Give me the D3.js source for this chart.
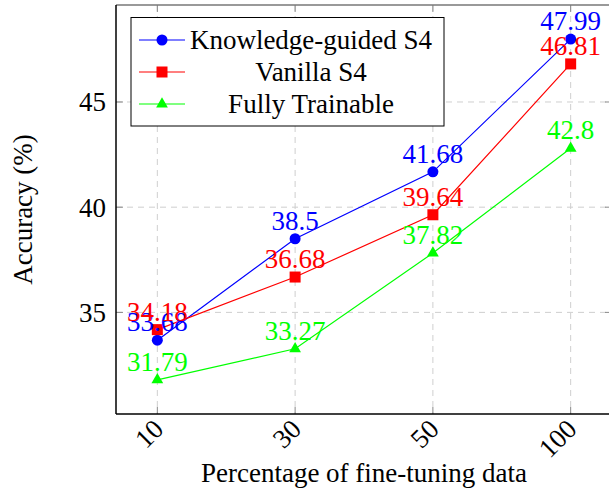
<!DOCTYPE html>
<html>
<head>
<meta charset="utf-8">
<script src="https://cdn.jsdelivr.net/npm/d3@7"></script>
<style>
  body { margin: 0; background: #fff; }
</style>
</head>
<body>
<div id="chart"></div>
<script>
const categories = ['10', '30', '50', '100']
const knowledgeGuided = [33.68, 38.5, 41.68, 47.99]
const vanilla = [34.18, 36.68, 39.64, 46.81]
const fullyTrainable = [31.79, 33.27, 37.82, 42.8]
const yTicks = [35, 40, 45]
const seriesNames = ['Knowledge-guided S4', 'Vanilla S4', 'Fully Trainable']

const svgWidth = 609
const svgHeight = 489
const margin = {top: 5, right: -3, bottom: 75, left: 116}
const width = svgWidth - margin.left - margin.right
const height = svgHeight - margin.top - margin.bottom
const fontFamily = '"Liberation Serif", "Times New Roman", "DejaVu Serif", serif'
const fontSize = 27

const series = [
  {name: seriesNames[0], values: knowledgeGuided, color: '#0000ff', marker: 'circle'},
  {name: seriesNames[1], values: vanilla, color: '#ff0000', marker: 'square'},
  {name: seriesNames[2], values: fullyTrainable, color: '#00ff00', marker: 'triangle'}
]

const svg = d3.select('#chart').append('svg')
  .attr('width', svgWidth)
  .attr('height', svgHeight)
  .style('font-family', fontFamily)

const g = svg.append('g')
  .attr('transform', 'translate(' + margin.left + ',' + margin.top + ')')

const idx = d3.range(categories.length)
const x = d3.scaleLinear()
  .domain([-0.3, categories.length - 1 + 0.3])
  .range([0, width])

const allValues = knowledgeGuided.concat(vanilla, fullyTrainable)
const yMin = d3.min(allValues)
const yMax = d3.max(allValues)
const pad = (yMax - yMin) * 0.1
const y = d3.scaleLinear()
  .domain([yMin - pad, yMax + pad])
  .range([height, 0])

// grid
g.append('g').selectAll('line')
  .data(idx)
  .enter().append('line')
  .attr('x1', d => x(d)).attr('x2', d => x(d))
  .attr('y1', 0).attr('y2', height)
  .attr('stroke', '#cfcfcf')
  .attr('stroke-width', 1)
  .attr('stroke-dasharray', '6,5')

g.append('g').selectAll('line')
  .data(yTicks)
  .enter().append('line')
  .attr('x1', 0).attr('x2', width)
  .attr('y1', d => y(d)).attr('y2', d => y(d))
  .attr('stroke', '#cfcfcf')
  .attr('stroke-width', 1)
  .attr('stroke-dasharray', '6,5')

// tick marks
const tickLen = 7
idx.forEach(d => {
  g.append('line').attr('x1', x(d)).attr('x2', x(d)).attr('y1', height).attr('y2', height - tickLen)
    .attr('stroke', '#888').attr('stroke-width', 1)
  g.append('line').attr('x1', x(d)).attr('x2', x(d)).attr('y1', 0).attr('y2', tickLen)
    .attr('stroke', '#888').attr('stroke-width', 1)
})
yTicks.forEach(d => {
  g.append('line').attr('x1', 0).attr('x2', tickLen).attr('y1', y(d)).attr('y2', y(d))
    .attr('stroke', '#888').attr('stroke-width', 1)
  g.append('line').attr('x1', width).attr('x2', width - tickLen).attr('y1', y(d)).attr('y2', y(d))
    .attr('stroke', '#888').attr('stroke-width', 1)
})

// frame
g.append('line').attr('x1', 0).attr('x2', width).attr('y1', 0).attr('y2', 0)
  .attr('stroke', '#777').attr('stroke-width', 1.5)
g.append('line').attr('x1', width).attr('x2', width).attr('y1', 0).attr('y2', height)
  .attr('stroke', '#777').attr('stroke-width', 1.5)
g.append('line').attr('x1', 0).attr('x2', 0).attr('y1', 0).attr('y2', height)
  .attr('stroke', '#000').attr('stroke-width', 1.5)
g.append('line').attr('x1', 0).attr('x2', width).attr('y1', height).attr('y2', height)
  .attr('stroke', '#000').attr('stroke-width', 1.5)

// tick labels
g.append('g').selectAll('text')
  .data(yTicks)
  .enter().append('text')
  .attr('x', -10)
  .attr('y', d => y(d))
  .attr('dy', '0.35em')
  .attr('text-anchor', 'end')
  .attr('font-size', fontSize)
  .text(d => d)

g.append('g').selectAll('text')
  .data(idx)
  .enter().append('text')
  .attr('transform', d => 'translate(' + (x(d) + 1) + ',' + (height + 10) + ') rotate(-45)')
  .attr('dy', '0.35em')
  .attr('text-anchor', 'end')
  .attr('font-size', fontSize)
  .text(d => categories[d])

// axis titles
svg.append('text')
  .attr('x', margin.left + width / 2)
  .attr('y', 482)
  .attr('text-anchor', 'middle')
  .attr('font-size', fontSize)
  .text('Percentage of fine-tuning data')

svg.append('text')
  .attr('transform', 'translate(32,' + (margin.top + height / 2) + ') rotate(-90)')
  .attr('text-anchor', 'middle')
  .attr('font-size', fontSize)
  .text('Accuracy (%)')

// markers
function drawMarker(sel, type, color) {
  if (type === 'circle') {
    sel.append('circle').attr('r', 5.5).attr('fill', color)
  } else if (type === 'square') {
    sel.append('rect').attr('x', -5.5).attr('y', -5.5).attr('width', 11).attr('height', 11).attr('fill', color)
  } else {
    sel.append('path').attr('d', d3.symbol().type(d3.symbolTriangle).size(60)).attr('fill', color)
  }
}

const line = d3.line()
  .x((d, i) => x(i))
  .y(d => y(d))

series.forEach(s => {
  g.append('path')
    .datum(s.values)
    .attr('fill', 'none')
    .attr('stroke', s.color)
    .attr('stroke-width', 1.2)
    .attr('d', line)
})

series.forEach(s => {
  s.values.forEach((v, i) => {
    const m = g.append('g').attr('transform', 'translate(' + x(i) + ',' + y(v) + ')')
    drawMarker(m, s.marker, s.color)
  })
})

series.forEach(s => {
  g.append('g').selectAll('text')
    .data(s.values)
    .enter().append('text')
    .attr('x', (d, i) => x(i))
    .attr('y', d => y(d) - 9)
    .attr('text-anchor', 'middle')
    .attr('font-size', fontSize)
    .attr('fill', s.color)
    .text(d => d)
})

// legend
const legend = svg.append('g')
legend.append('rect')
  .attr('x', 131).attr('y', 17.5)
  .attr('width', 313).attr('height', 108.5)
  .attr('fill', '#fff')
  .attr('stroke', '#000')
  .attr('stroke-width', 1)

series.forEach((s, i) => {
  const rowY = 40 + i * 32
  legend.append('line')
    .attr('x1', 139).attr('x2', 185)
    .attr('y1', rowY).attr('y2', rowY)
    .attr('stroke', s.color)
    .attr('stroke-width', 1.2)
  const m = legend.append('g').attr('transform', 'translate(162,' + rowY + ')')
  drawMarker(m, s.marker, s.color)
  legend.append('text')
    .attr('x', 311)
    .attr('y', rowY)
    .attr('dy', '0.35em')
    .attr('text-anchor', 'middle')
    .attr('font-size', fontSize)
    .text(s.name)
})
</script>
</body>
</html>
